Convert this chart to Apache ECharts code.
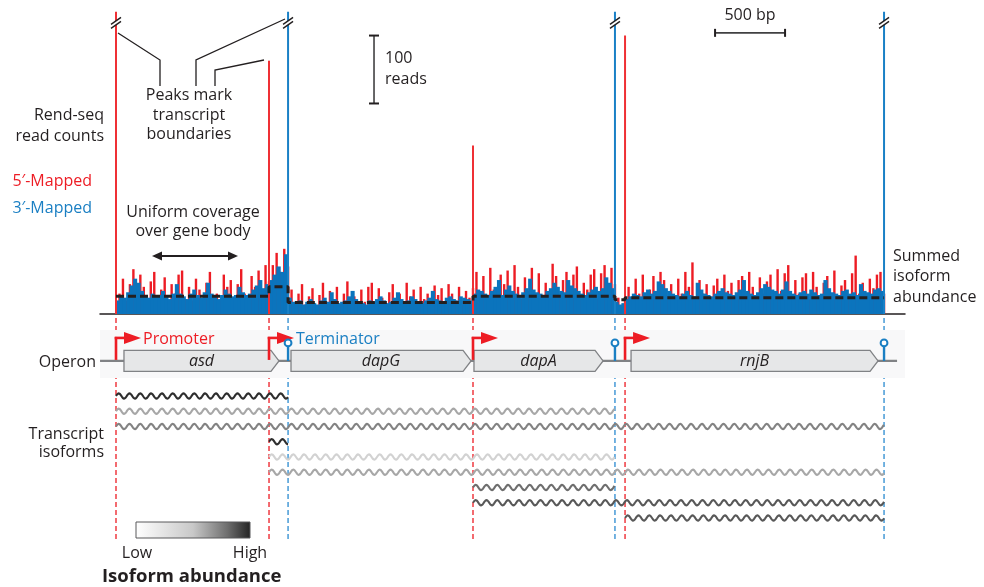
<!DOCTYPE html>
<html><head><meta charset="utf-8">
<script src="https://cdn.jsdelivr.net/npm/echarts/dist/echarts.min.js"></script>
<style>html,body{margin:0;padding:0;background:#fff}#c{width:984px;height:587px}</style>
</head><body><div id="c"></div>
<script>
// ================= DATA (genome positions in bp, counts in reads) =================
const promoters   = [0, 1093, 2550, 3636];
const terminators = [1229, 3564, 5486];
const geneNames = ['asd', 'dapG', 'dapA', 'rnjB'];
const geneStart = [57, 1250, 2557, 3679];
const geneEnd   = [1164, 2536, 3479, 5443];
// transcript isoforms: start, end, relative abundance (0..1)
const isoStart = [0, 0, 0, 1093, 1093, 1093, 2550, 2550, 3636];
const isoEnd   = [1229, 3564, 5486, 1229, 3564, 5486, 3564, 5486, 5486];
const isoAbund = [0.97, 0.61, 0.73, 0.97, 0.41, 0.61, 0.80, 0.86, 0.86];
// end peaks
const peak5Pos = [0, 1093, 2550, 3636];
const peak5Val = [445, 373, 248, 410];
const peak3Pos = [1229, 3564, 5486];
const peak3Val = [445, 445, 445];
const brokenPeaks = [0, 1229, 3564, 5486];
// coverage regions (boundaries) and summed isoform abundance per region
const regionBounds = [0, 1093, 1229, 2550, 3564, 3636, 5486];
const summedLevel  = [26, 40, 17, 26, 21, 24];
// 3'-mapped (blue) coverage per region
const blue1 = [20,26,24,32,42,52,46,34,28,24,30,26,28,34,26,22,30,44,30,26,22,30,36,28,24,32,46,30,26,22,28,36,30,26,28,40,32,28,30,36,42,50,38,44];
const blue2 = [50,58,70,62,88];
const blue3 = [24,18,16,20,14,18,22,16,14,20,24,18,32,22,16,18,20,26,34,22,18,16,14,20,18,22,26,20,16,18,24,32,22,18,20,26,22,18,16,20,24,34,22,20,18,24,26,22,20,26,24,22,20];
const blue4 = [30,36,34,30,28,34,40,50,28,36,42,34,30,28,32,38,52,36,32,30,28,34,38,46,40,34,32,50,42,38,34,30,28,32,36,40,34,38,54,46,38];
const blue5 = [18,14,16];
const blue6 = [22,26,30,28,26,32,36,30,34,48,44,38,34,30,28,26,30,34,28,26,46,36,30,28,26,30,34,38,32,30,28,32,36,50,34,30,28,32,38,44,40,36,34,30,36,48,34,30,28,32,34,30,36,32,28,30,50,38,32,30,28,34,36,30,32,28,44,34,32,30,36,38,34];
// 5'-mapped (red) coverage per region
const red1 = [30,52,20,44,66,30,58,40,22,48,62,20,36,54,18,44,30,58,64,22,40,20,52,36,18,46,62,24,30,20,58,40,50,22,44,66,30,26,56,40,64,30,72,48];
const red2 = [72,90,62,96,70];
const red3 = [36,16,30,44,14,26,38,12,28,46,18,34,22,40,14,30,48,20,26,12,36,18,40,46,16,38,24,14,32,44,20,30,12,46,26,36,14,40,22,30,16,42,28,38,12,44,30,20,40,14,34,24,38];
const red4 = [62,30,56,24,68,36,20,58,44,64,26,72,40,22,54,34,68,28,60,20,46,30,74,56,24,50,62,30,58,70,24,46,36,58,66,22,60,72,30,68,44];
const red5 = [24,12,20];
const red6 = [40,20,52,30,58,24,36,56,20,62,50,26,44,22,52,30,62,40,76,24,50,30,44,20,42,52,26,58,34,46,20,50,56,28,62,40,22,54,30,48,58,26,66,34,60,72,24,50,30,54,60,22,62,40,20,46,56,30,64,24,42,50,28,60,86,30,46,22,52,38,58,62,30];
// scale bars
const readsBar = [1843, 310, 410];   // x, from, to (reads)
const bpBar    = [4279, 4779, 414];  // from, to (bp), at height
// ================================================================================

const BP_PER_PX = 500 / 70;
const X_MIN = -16 * BP_PER_PX, X_MAX = 789 * BP_PER_PX;
const Y_TOP = -4.115, Y_BOT = 10.443, OPERON_Y = -1.3;
const RED = '#ed1c24', BLUE = '#0b74bd', BLUE_T = '#1a7fc3', INK = '#231f20', FONT = '"Open Sans"';
const gradStops = [[0, 255], [0.5, 200], [0.8, 110], [1, 35]];
function grayOf(a) {
  for (let i = 1; i < gradStops.length; i++) {
    if (a <= gradStops[i][0]) {
      const [a0, g0] = gradStops[i - 1], [a1, g1] = gradStops[i];
      const g = Math.round(g0 + (g1 - g0) * (a - a0) / (a1 - a0));
      return `rgb(${g},${g},${g})`;
    }
  }
  return 'rgb(35,31,32)';
}
function bins(arrs, offset) {
  const out = [];
  arrs.forEach((a, r) => {
    const s = regionBounds[r], e = regionBounds[r + 1], w = (e - s) / a.length;
    a.forEach((v, i) => out.push([s + w * (i + offset), v, w]));
  });
  return out;
}
const blueData = bins([blue1, blue2, blue3, blue4, blue5, blue6], 0.5);
const redData = bins([red1, red2, red3, red4, red5, red6], 1.0);
const stepData = [];
summedLevel.forEach((l, i) => { stepData.push([regionBounds[i], l]); stepData.push([regionBounds[i + 1], l]); });

function covRender(color, fixedW) {
  return (params, api) => {
    const x = api.value(0), v = api.value(1), w = api.value(2);
    const t = api.coord([x, v]), b = api.coord([x, 0]);
    const bw = fixedW || (api.size([w, 0])[0] + 0.6);
    return { type: 'rect', shape: { x: t[0] - bw / 2, y: t[1], width: bw, height: b[1] - t[1] }, style: { fill: color } };
  };
}

const chart = echarts.init(document.getElementById('c'));
const txt = (text, x, y, o = {}) => ({
  type: 'text', x, y, z: 100,
  style: Object.assign({ text, fill: INK, font: `16px ${FONT}`, align: 'left', textAlign: 'left', verticalAlign: 'middle', textVerticalAlign: 'middle' }, o)
});
const R = { align: 'right', textAlign: 'right' }, C = { align: 'center', textAlign: 'center' };

const option = {
  animation: false,
  grid: [{ left: 100, width: 805, top: 5, height: 309 }, { left: 100, width: 805, top: 318, height: 222 }],
  xAxis: [
    { type: 'value', gridIndex: 0, min: X_MIN, max: X_MAX, axisLine: { show: true, onZero: false, lineStyle: { color: INK, width: 1.5 } }, axisTick: { show: false }, axisLabel: { show: false }, splitLine: { show: false } },
    { type: 'value', gridIndex: 1, min: X_MIN, max: X_MAX, show: false, splitLine: { show: false } }
  ],
  yAxis: [
    { type: 'value', gridIndex: 0, min: 0, max: 455, show: false, splitLine: { show: false } },
    { type: 'value', gridIndex: 1, min: Y_TOP, max: Y_BOT, inverse: true, show: false, splitLine: { show: false } }
  ],
  series: [
    { type: 'custom', name: '5p', xAxisIndex: 0, yAxisIndex: 0, z: 2, progressive: 0, encode: { x: 0, y: 1 }, data: redData, renderItem: covRender(RED, 2.4) },
    { type: 'custom', name: '3p', xAxisIndex: 0, yAxisIndex: 0, z: 3, progressive: 0, encode: { x: 0, y: 1 }, data: blueData, renderItem: covRender(BLUE) },
    { type: 'custom', name: 'peak5', xAxisIndex: 0, yAxisIndex: 0, z: 4, encode: { x: 0, y: 1 }, data: peak5Pos.map((p, i) => [p, peak5Val[i], 0]), renderItem: covRender('#ef3035', 2) },
    { type: 'custom', name: 'peak3', xAxisIndex: 0, yAxisIndex: 0, z: 4, encode: { x: 0, y: 1 }, data: peak3Pos.map((p, i) => [p, peak3Val[i], 0]), renderItem: covRender('#1a80c6', 2) },
    { type: 'line', name: 'summed', xAxisIndex: 0, yAxisIndex: 0, z: 6, data: stepData, showSymbol: false, symbol: 'none',
      lineStyle: { color: INK, width: 3, type: [8, 4] } },
    { type: 'custom', name: 'breaks', xAxisIndex: 0, yAxisIndex: 0, z: 7, encode: { x: 0, y: 1 }, data: brokenPeaks.map(p => [p, 428]),
      renderItem: (params, api) => {
        const c = api.coord([api.value(0), api.value(1)]), x = c[0], y = c[1];
        return { type: 'group', children: [
          { type: 'polygon', shape: { points: [[x - 5, y + 1], [x + 5, y - 6], [x + 5, y - 2], [x - 5, y + 5]] }, style: { fill: '#fff' } },
          { type: 'line', shape: { x1: x - 5, y1: y + 1, x2: x + 5, y2: y - 6 }, style: { stroke: INK, lineWidth: 1.4 } },
          { type: 'line', shape: { x1: x - 5, y1: y + 5, x2: x + 5, y2: y - 2 }, style: { stroke: INK, lineWidth: 1.4 } }
        ] };
      } },
    { type: 'custom', name: 'readsBar', xAxisIndex: 0, yAxisIndex: 0, z: 7, data: [readsBar],
      renderItem: (params, api) => {
        const a = api.coord([api.value(0), api.value(1)]), b = api.coord([api.value(0), api.value(2)]);
        const mid = (a[1] + b[1]) / 2;
        return { type: 'group', children: [
          { type: 'line', shape: { x1: a[0], y1: a[1], x2: b[0], y2: b[1] }, style: { stroke: '#414042', lineWidth: 1.6 } },
          { type: 'line', shape: { x1: a[0] - 5, y1: a[1], x2: a[0] + 5, y2: a[1] }, style: { stroke: INK, lineWidth: 2 } },
          { type: 'line', shape: { x1: b[0] - 5, y1: b[1], x2: b[0] + 5, y2: b[1] }, style: { stroke: INK, lineWidth: 2 } },
          { type: 'text', x: a[0] + 11, y: mid - 11, style: { text: '100', font: `16px ${FONT}`, fill: INK, verticalAlign: 'middle', textVerticalAlign: 'middle' } },
          { type: 'text', x: a[0] + 11, y: mid + 10, style: { text: 'reads', font: `16px ${FONT}`, fill: INK, verticalAlign: 'middle', textVerticalAlign: 'middle' } }
        ] };
      } },
    { type: 'custom', name: 'bpBar', xAxisIndex: 0, yAxisIndex: 0, z: 7, data: [bpBar],
      renderItem: (params, api) => {
        const a = api.coord([api.value(0), api.value(2)]), b = api.coord([api.value(1), api.value(2)]);
        return { type: 'group', children: [
          { type: 'line', shape: { x1: a[0], y1: a[1], x2: b[0], y2: b[1] }, style: { stroke: '#414042', lineWidth: 1.6 } },
          { type: 'line', shape: { x1: a[0], y1: a[1] - 4, x2: a[0], y2: a[1] + 4 }, style: { stroke: INK, lineWidth: 2 } },
          { type: 'line', shape: { x1: b[0], y1: b[1] - 4, x2: b[0], y2: b[1] + 4 }, style: { stroke: INK, lineWidth: 2 } },
          { type: 'text', x: (a[0] + b[0]) / 2, y: a[1] - 17, style: { text: '500 bp', font: `16px ${FONT}`, fill: INK, align: 'center', textAlign: 'center', verticalAlign: 'middle', textVerticalAlign: 'middle' } }
        ] };
      } },
    // ---------- diagram grid ----------
    { type: 'custom', name: 'vlines', xAxisIndex: 1, yAxisIndex: 1, z: 1,
      data: promoters.map(p => [p, 0]).concat(terminators.map(t => [t, 1])),
      renderItem: (params, api) => {
        const a = api.coord([api.value(0), Y_TOP]), b = api.coord([api.value(0), Y_BOT]);
        return { type: 'line', shape: { x1: a[0], y1: a[1], x2: b[0], y2: b[1] }, style: { stroke: api.value(1) ? '#2a8ad0' : RED, lineWidth: 1.3, lineDash: [5, 3] } };
      } },
    { type: 'custom', name: 'operon', xAxisIndex: 1, yAxisIndex: 1, z: 2, data: [[-114, 5579, OPERON_Y]],
      renderItem: (params, api) => {
        const a = api.coord([api.value(0), api.value(2)]), b = api.coord([api.value(1), api.value(2)]);
        const cs = params.coordSys;
        return { type: 'group', children: [
          { type: 'rect', shape: { x: cs.x, y: a[1] - 31, width: cs.width, height: 48 }, style: { fill: '#f8f8f9' } },
          { type: 'line', shape: { x1: a[0], y1: a[1], x2: b[0], y2: b[1] }, style: { stroke: '#808285', lineWidth: 2.2 } }
        ] };
      } },
    { type: 'custom', name: 'genes', xAxisIndex: 1, yAxisIndex: 1, z: 3,
      data: geneStart.map((s, i) => [s, geneEnd[i], OPERON_Y, i]),
      renderItem: (params, api) => {
        const s = api.coord([api.value(0), api.value(2)]), e = api.coord([api.value(1), api.value(2)]);
        const y = s[1], h = 10.5, d = 8;
        return { type: 'group', children: [
          { type: 'polygon', shape: { points: [[s[0], y - h], [e[0] - d, y - h], [e[0], y], [e[0] - d, y + h], [s[0], y + h]] }, style: { fill: '#e6e7e8', stroke: '#808285', lineWidth: 1.3 } },
          { type: 'text', x: (s[0] + e[0]) / 2, y: y + 1, style: { text: geneNames[api.value(3)], font: `italic 16px ${FONT}`, fill: INK, align: 'center', textAlign: 'center', verticalAlign: 'middle', textVerticalAlign: 'middle' } }
        ] };
      } },
    { type: 'custom', name: 'promoters', xAxisIndex: 1, yAxisIndex: 1, z: 4,
      data: promoters.map(p => [p, OPERON_Y]),
      renderItem: (params, api) => {
        const c = api.coord([api.value(0), api.value(1)]), x = c[0], y = c[1];
        return { type: 'group', children: [
          { type: 'line', shape: { x1: x, y1: y - 1, x2: x, y2: y - 24 }, style: { stroke: RED, lineWidth: 2.6 } },
          { type: 'line', shape: { x1: x - 1.3, y1: y - 23, x2: x + 9, y2: y - 23 }, style: { stroke: RED, lineWidth: 2.6 } },
          { type: 'polygon', shape: { points: [[x + 8, y - 29], [x + 25, y - 23], [x + 8, y - 17]] }, style: { fill: RED } }
        ] };
      } },
    { type: 'custom', name: 'terminators', xAxisIndex: 1, yAxisIndex: 1, z: 4,
      data: terminators.map(t => [t, OPERON_Y]),
      renderItem: (params, api) => {
        const c = api.coord([api.value(0), api.value(1)]), x = c[0], y = c[1];
        return { type: 'group', children: [
          { type: 'line', shape: { x1: x, y1: y, x2: x, y2: y - 14 }, style: { stroke: '#1a7fc3', lineWidth: 2.4 } },
          { type: 'circle', shape: { cx: x, cy: y - 18, r: 3.4 }, style: { fill: '#fff', stroke: '#1a7fc3', lineWidth: 2 } }
        ] };
      } },
    { type: 'custom', name: 'isoforms', xAxisIndex: 1, yAxisIndex: 1, z: 3,
      data: isoStart.map((s, i) => [s, isoEnd[i], i + 1, isoAbund[i]]),
      renderItem: (params, api) => {
        const p0 = api.coord([api.value(0), api.value(2)]), p1 = api.coord([api.value(1), api.value(2)]);
        const pts = [], P = 10.8, A = 2.6;
        for (let x = p0[0]; x <= p1[0]; x += 0.5) pts.push([x, p0[1] - A * Math.sin(2 * Math.PI * (x - p0[0]) / P)]);
        return { type: 'polyline', shape: { points: pts }, style: { stroke: grayOf(api.value(3)), lineWidth: 2.1, fill: null } };
      } }
  ],
  graphic: [
    txt('Rend-seq', 104, 115, R), txt('read counts', 104, 136, R),
    txt('5′-Mapped', 92, 181, Object.assign({ fill: RED }, R)),
    txt('3′-Mapped', 92, 208, Object.assign({ fill: BLUE_T }, R)),
    txt('Peaks mark', 189, 95, C), txt('transcript', 189, 115, C), txt('boundaries', 189, 134, C),
    { type: 'polyline', z: 100, shape: { points: [[118, 33], [160, 60], [160, 86]] }, style: { stroke: INK, lineWidth: 1.3, fill: null } },
    { type: 'polyline', z: 100, shape: { points: [[285, 19], [196, 60], [196, 86]] }, style: { stroke: INK, lineWidth: 1.3, fill: null } },
    { type: 'polyline', z: 100, shape: { points: [[264, 60], [215, 70], [215, 86]] }, style: { stroke: INK, lineWidth: 1.3, fill: null } },
    txt('Uniform coverage', 193, 212, C), txt('over gene body', 193, 231, C),
    { type: 'line', z: 100, shape: { x1: 158, y1: 256, x2: 232, y2: 256 }, style: { stroke: INK, lineWidth: 2 } },
    { type: 'polygon', z: 100, shape: { points: [[152, 256], [162, 251.5], [162, 260.5]] }, style: { fill: INK } },
    { type: 'polygon', z: 100, shape: { points: [[238, 256], [228, 251.5], [228, 260.5]] }, style: { fill: INK } },
    txt('Summed', 893, 256), txt('isoform', 893, 276), txt('abundance', 893, 297),
    txt('Operon', 96, 362, R),
    txt('Promoter', 143, 339, { fill: RED }), txt('Terminator', 296, 339, { fill: BLUE_T }),
    txt('Transcript', 104, 434, R), txt('isoforms', 104, 452, R),
    { type: 'rect', z: 100, shape: { x: 136, y: 522, width: 114, height: 16 },
      style: { fill: { type: 'linear', x: 0, y: 0, x2: 1, y2: 0, colorStops: gradStops.map(([o, g]) => ({ offset: o, color: `rgb(${g},${g},${g})` })) }, stroke: '#58595b', lineWidth: 1 } },
    txt('Low', 137, 553, C), txt('High', 250, 553, C),
    txt('Isoform abundance', 102, 577, { font: `bold 18.5px ${FONT}` })
  ]
};
chart.setOption(option);
</script></body></html>
